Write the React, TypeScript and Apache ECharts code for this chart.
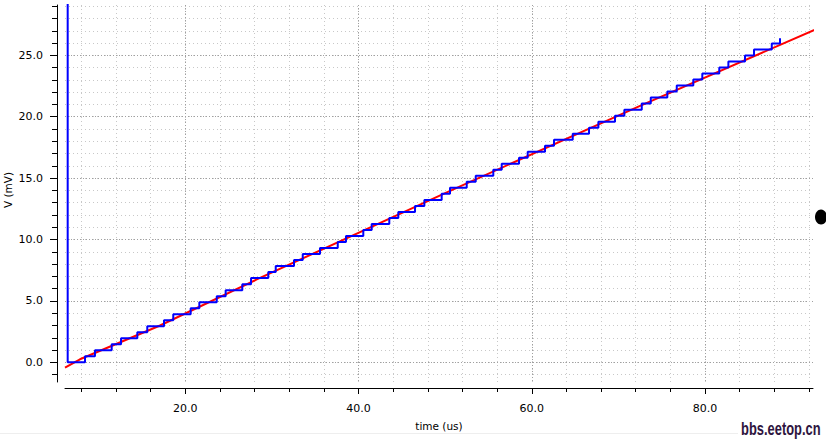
import React, { useEffect, useRef } from "react";
import * as echarts from "echarts";

// Axis ranges and tick values
const xMin = 6.11;
const xMax = 92.47;
const yMin = -1.6;
const yMax = 29.1;
const xTicks = [8, 12, 16, 20, 24, 28, 32, 36, 40, 44, 48, 52, 56, 60, 64, 68, 72, 76, 80, 84, 88, 92];
const xMajorTicks = [20, 40, 60, 80];
const yTicks = [-1, 0, 1, 2, 3, 4, 5, 6, 7, 8, 9, 10, 11, 12, 13, 14, 15, 16, 17, 18, 19, 20, 21, 22, 23, 24, 25, 26, 27, 28, 29];
const yMajorTicks = [0, 5, 10, 15, 20, 25];
const xAxisTitle = "time (us)";
const yAxisTitle = "V (mV)";

// Red trace (ideal ramp)
const redTimes = [6.11, 7.84, 17.08, 28.25, 50.76, 72.7, 93.67];
const redValues = [-0.42, 0.25, 3.0, 6.75, 14.03, 20.95, 27.39];

// Blue trace (staircase): initial drop, then rises
const blueStartTimes = [6.42, 6.42];
const blueStartLevels = [30, 0];
const stepTimes = [
  8.42, 9.57, 11.5, 12.58, 14.46, 15.61, 17.54, 18.61, 20.62, 21.62,
  23.63, 24.66, 26.58, 27.59, 29.58, 30.44, 32.55, 33.56, 35.55, 37.6,
  38.55, 40.55, 41.52, 43.55, 44.59, 46.52, 47.6, 49.6, 50.56, 52.49,
  53.53, 55.56, 56.53, 58.53, 59.53, 61.53, 62.57, 64.73, 66.61, 67.69,
  69.61, 70.69, 72.7, 73.74, 75.65, 76.74, 78.65, 79.69, 81.65, 82.7,
  84.62, 85.66, 87.71, 88.66,
];
const stepLevels = [
  0.49, 0.98, 1.47, 1.96, 2.45, 2.94, 3.43, 3.92, 4.41, 4.9,
  5.39, 5.88, 6.37, 6.86, 7.35, 7.84, 8.33, 8.82, 9.31, 9.8,
  10.29, 10.78, 11.27, 11.76, 12.25, 12.74, 13.23, 13.72, 14.21, 14.7,
  15.19, 15.68, 16.17, 16.66, 17.15, 17.64, 18.13, 18.62, 19.11, 19.6,
  20.09, 20.58, 21.07, 21.56, 22.05, 22.54, 23.03, 23.52, 24.01, 24.5,
  24.99, 25.48, 25.97, 26.4,
];

export default function App() {
  const ref = useRef<HTMLDivElement>(null);
  useEffect(() => {
    const chart = echarts.init(ref.current!, null, { renderer: "svg" });
    const labelStyle = { fontFamily: "DejaVu Sans", fontSize: 11, color: "#000" };
    const nameStyle = { fontFamily: "DejaVu Sans", fontSize: 10.5, color: "#000" };
    const minorGrid = { show: true, lineStyle: { color: "#c8c8c8", width: 1, type: [1, 3] } };
    const majorGrid = { show: true, lineStyle: { color: "#a0a0a0", width: 1, type: [1, 2] } };
    const axisLine = { show: true, onZero: false, lineStyle: { color: "#000", width: 1 } };
    const tickLine = { color: "#000", width: 1 };
    const fmt = (v: number) => v.toFixed(1);

    const redData = redTimes.map((t, i) => [t, redValues[i]]);
    const blueData = [
      ...blueStartTimes.map((t, i) => [t, blueStartLevels[i]]),
      ...stepTimes.map((t, i) => [t, stepLevels[i]]),
    ];

    chart.setOption({
      animation: false,
      backgroundColor: "#ffffff",
      grid: { left: 65, right: 13, top: 5, bottom: 59, containLabel: false, outerBoundsMode: "none" },
      xAxis: [
        {
          type: "value", min: xMin, max: xMax, position: "bottom", offset: 6,
          name: xAxisTitle, nameLocation: "middle", nameGap: 32, nameTextStyle: nameStyle,
          axisLine,
          axisTick: { show: true, length: 4, customValues: xTicks, lineStyle: tickLine },
          axisLabel: { show: true, customValues: xMajorTicks, formatter: fmt, margin: 15, ...labelStyle },
          splitLine: minorGrid,
        },
        {
          type: "value", min: xMin, max: xMax, position: "bottom", offset: 6,
          axisLine: { show: false, onZero: false },
          axisTick: { show: true, length: 6, customValues: xMajorTicks, lineStyle: tickLine },
          axisLabel: { show: false },
          splitLine: majorGrid,
        },
      ],
      yAxis: [
        {
          type: "value", min: yMin, max: yMax, position: "left", offset: 8,
          axisLine,
          axisTick: { show: true, length: 5, customValues: yTicks, lineStyle: tickLine },
          axisLabel: { show: true, customValues: yMajorTicks, formatter: fmt, margin: 14, ...labelStyle },
          splitLine: minorGrid,
        },
        {
          type: "value", min: yMin, max: yMax, position: "left", offset: 8,
          axisLine: { show: false, onZero: false },
          axisTick: { show: true, length: 7, customValues: yMajorTicks, lineStyle: tickLine },
          axisLabel: { show: false },
          splitLine: majorGrid,
        },
      ],
      series: [
        {
          type: "line", xAxisIndex: 0, yAxisIndex: 0, data: redData,
          showSymbol: false, clip: true, silent: true,
          lineStyle: { color: "#ff0000", width: 2 },
        },
        {
          type: "line", xAxisIndex: 0, yAxisIndex: 0, data: blueData, step: "end",
          showSymbol: false, clip: true, silent: true,
          lineStyle: { color: "#0000ff", width: 2 },
        },
      ],
      graphic: [
        { type: "rect", shape: { x: 0, y: 433, width: 738, height: 1 }, style: { fill: "#eeeeee" }, silent: true },
        { type: "ellipse", shape: { cx: 821, cy: 217, rx: 6, ry: 7.5 }, style: { fill: "#000" }, silent: true },
        {
          type: "text", x: 8, y: 190, rotation: Math.PI / 2, silent: true,
          style: {
            text: yAxisTitle, font: '10.5px "DejaVu Sans"', fill: "#000",
            textAlign: "center", textVerticalAlign: "middle",
          },
        },
        {
          type: "text", x: 741, y: 418, scaleX: 0.68, silent: true,
          style: { text: "bbs.eetop.cn", font: 'bold 19px "Liberation Sans"', fill: "#2e1540", textVerticalAlign: "top" },
        },
      ],
    });
    return () => chart.dispose();
  }, []);
  return <div ref={ref} style={{ position: "fixed", left: 0, top: 0, width: 826, height: 441 }} />;
}
